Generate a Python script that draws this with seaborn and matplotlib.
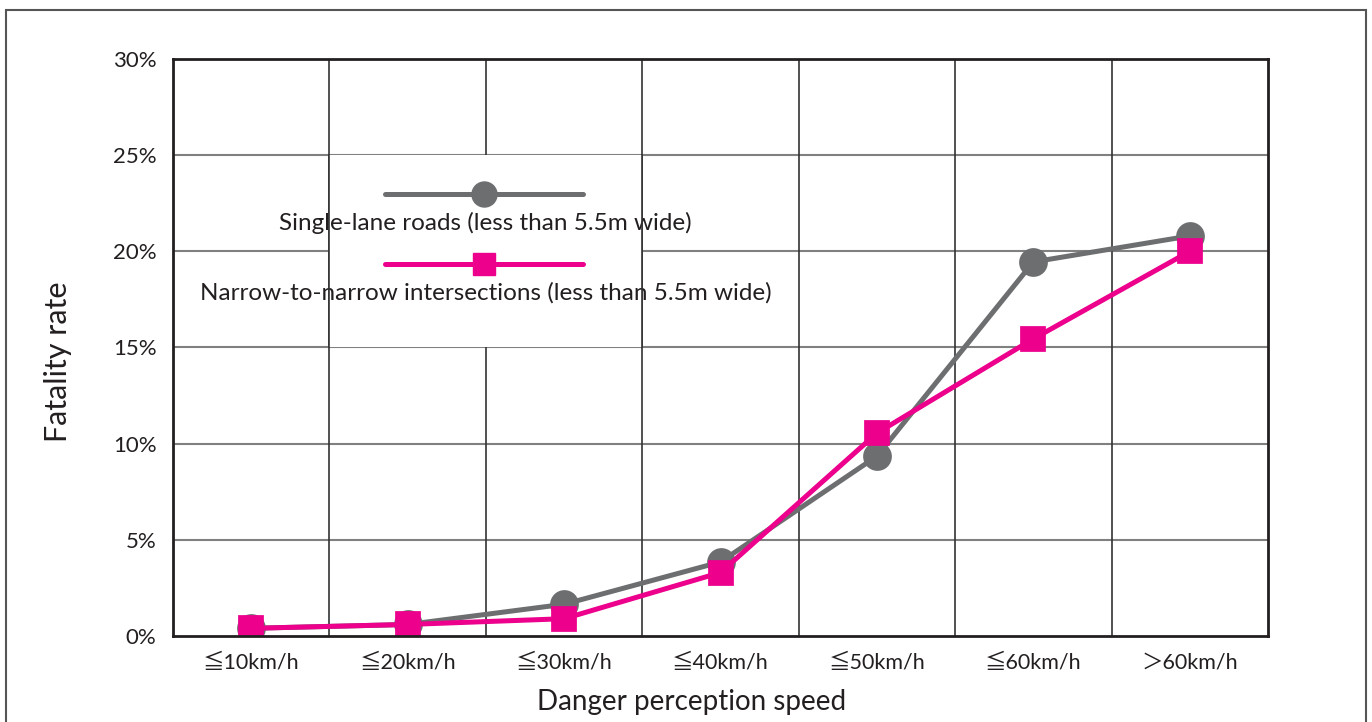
import numpy as np
import pandas as pd
import seaborn as sns
import matplotlib.pyplot as plt
from matplotlib.patches import Rectangle
from matplotlib.lines import Line2D

speeds = ["≦10km/h", "≦20km/h", "≦30km/h", "≦40km/h", "≦50km/h", "≦60km/h", "＞60km/h"]
single_lane = [0.4, 0.6, 1.65, 3.85, 9.35, 19.45, 20.8]
narrow_x = [0.4, 0.6, 0.9, 3.3, 10.55, 15.45, 20.0]
series_names = ["Single-lane roads (less than 5.5m wide)",
                "Narrow-to-narrow intersections (less than 5.5m wide)"]
y_ticks = [0, 5, 10, 15, 20, 25, 30]

GRAY = "#6d6e70"
PINK = "#ec008c"
TXT = "#231f20"

sns.set_style("white")
plt.rcParams["font.family"] = ["Lato", "Noto Sans CJK JP", "DejaVu Sans"]

df = pd.DataFrame({
    "speed": speeds * 2,
    "rate": single_lane + narrow_x,
    "road": [series_names[0]] * len(speeds) + [series_names[1]] * len(speeds),
})

fig = plt.figure(figsize=(13.72, 7.22), dpi=100)
ax = fig.add_axes([0.1261, 0.1191, 0.7981, 0.7992])

# outer frame (bottom edge runs off the image)
fig.patches.append(Rectangle((0.0044, -0.05), 0.9913, 1.036, transform=fig.transFigure,
                             fill=False, edgecolor="#555555", linewidth=1.5))

sns.pointplot(data=df[df.road == series_names[0]], x="speed", y="rate", order=speeds,
              color=GRAY, marker="o", markersize=18, linewidth=3.6, errorbar=None, ax=ax)
sns.pointplot(data=df[df.road == series_names[1]], x="speed", y="rate", order=speeds,
              color=PINK, marker="s", markersize=16, linewidth=3.6, errorbar=None, ax=ax)

ax.set_xlim(-0.5, len(speeds) - 0.5)
ax.set_ylim(0, 30)
ax.set_yticks(y_ticks)
ax.set_yticklabels([f"{t}%" for t in y_ticks])
ax.set_xticks(range(len(speeds)))
ax.set_xticklabels(speeds)
ax.tick_params(axis="y", length=0, labelsize=16, labelcolor=TXT, pad=12)
ax.tick_params(axis="x", length=0, labelsize=15.5, labelcolor=TXT, pad=12)

# grid: horizontal gray, vertical dark between categories
for t in y_ticks[1:-1]:
    ax.axhline(t, color="#808080", linewidth=1.5, zorder=0.5)
for b in np.arange(0.5, len(speeds) - 0.5):
    ax.axvline(b, color="#333333", linewidth=1.2, zorder=0.5)

for s in ax.spines.values():
    s.set_color(TXT)
    s.set_linewidth(2)

ax.set_xlabel("Danger perception speed", fontsize=20, color=TXT)
ax.xaxis.set_label_coords(0.474, -0.092)
ax.set_ylabel("Fatality rate", fontsize=22, color=TXT)
ax.yaxis.set_label_coords(-0.092, 0.475)

# legend: white box over the grid, handle line above each label
ax.add_patch(Rectangle((0.5, 15), 2.0, 10, facecolor="white", edgecolor="none", zorder=1))
for b in (0.5, 2.5):
    ax.plot([b, b], [15, 25], color="#333333", linewidth=1.2, zorder=6)
lx0, lx1 = 0.855, 2.12
legend_rows = [(23.0, GRAY, "o", 18, series_names[0], 21.45),
               (19.35, PINK, "s", 16, series_names[1], 17.85)]
for y, c, m, ms, name, ty in legend_rows:
    ax.add_line(Line2D([lx0, lx1], [y, y], color=c, linewidth=3.6, zorder=3))
    ax.add_line(Line2D([(lx0 + lx1) / 2], [y], color=c, marker=m, markersize=ms,
                       linestyle="none", zorder=3))
    ax.text((lx0 + lx1) / 2 + 0.01, ty, name, ha="center", va="center",
            fontsize=17.5, color=TXT, zorder=4)

fig.savefig("out.png", dpi=100)
